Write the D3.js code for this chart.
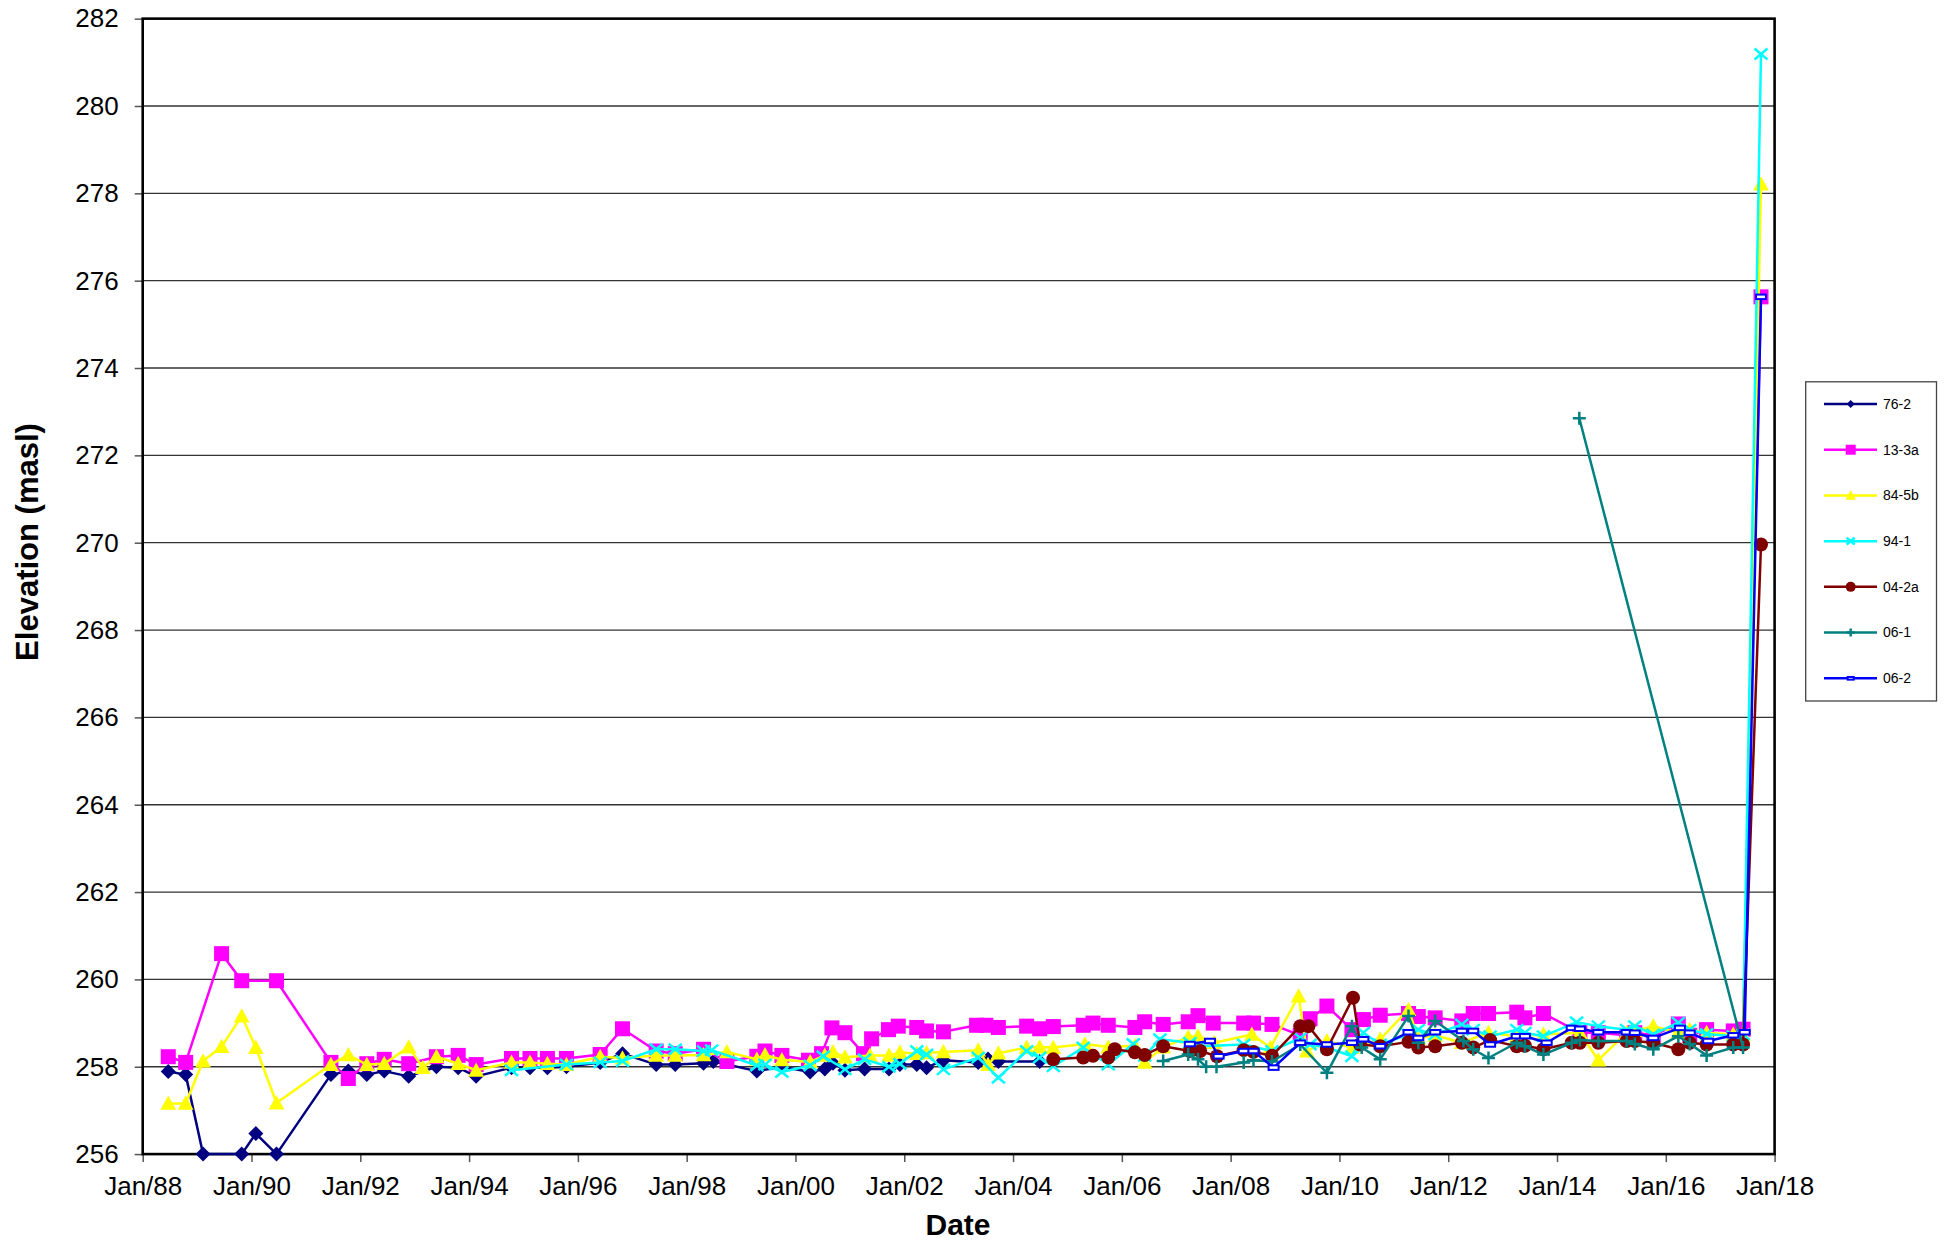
<!DOCTYPE html>
<html><head><meta charset="utf-8">
<script src="https://cdn.jsdelivr.net/npm/d3@7"></script>
<style>body{margin:0;background:#fff;}svg{display:block;font-family:"Liberation Sans",Arial,sans-serif;}</style>
</head><body><svg id="c" width="1950" height="1245"></svg>
<script>
// ---------- DATA (decimal year, elevation masl) ----------
const seriesNames = ["76-2","13-3a","84-5b","94-1","04-2a","06-1","06-2"];
const xTickYears = [1988,1990,1992,1994,1996,1998,2000,2002,2004,2006,2008,2010,2012,2014,2016,2018];
const xTickLabels = ["Jan/88","Jan/90","Jan/92","Jan/94","Jan/96","Jan/98","Jan/00","Jan/02","Jan/04","Jan/06","Jan/08","Jan/10","Jan/12","Jan/14","Jan/16","Jan/18"];
const yTickValues = [256,258,260,262,264,266,268,270,272,274,276,278,280,282];

const dates_76_2 = [1988.47,1988.79,1989.11,1989.82,1990.08,1990.46,1991.46,1991.78,1992.12,1992.44,1992.89,1993.40,1993.80,1994.13,1994.78,1995.12,1995.44,1995.79,1996.41,1996.82,1997.44,1997.79,1998.31,1998.49,1999.29,1999.75,2000.27,2000.54,2000.69,2000.91,2001.27,2001.72,2001.92,2002.23,2002.41,2002.72,2003.36,2003.54,2003.73,2004.49];
const elev_76_2  = [257.89,257.82,256.00,256.00,256.47,256.00,257.82,257.90,257.82,257.90,257.78,258.00,257.98,257.78,257.98,257.98,257.98,258.00,258.10,258.30,258.05,258.05,258.08,258.12,257.90,258.00,257.88,257.95,258.08,257.92,257.95,257.95,258.05,258.05,257.98,258.15,258.10,258.18,258.12,258.12];

const dates_13_3a = [1988.47,1988.79,1989.45,1989.82,1990.46,1991.46,1991.78,1992.12,1992.44,1992.89,1993.40,1993.80,1994.13,1994.78,1995.12,1995.44,1995.79,1996.41,1996.82,1997.44,1997.79,1998.31,1998.74,1999.29,1999.44,1999.75,2000.24,2000.48,2000.67,2000.91,2001.25,2001.40,2001.71,2001.89,2002.23,2002.41,2002.72,2003.33,2003.50,2003.73,2004.25,2004.49,2004.74,2005.29,2005.47,2005.75,2006.24,2006.42,2006.76,2007.22,2007.40,2007.68,2008.24,2008.42,2008.76,2009.28,2009.46,2009.77,2010.23,2010.44,2010.75,2011.27,2011.45,2011.76,2012.25,2012.46,2012.74,2013.26,2013.41,2013.75,2014.42,2014.76,2015.28,2015.43,2015.77,2016.23,2016.44,2016.75,2017.24,2017.42,2017.75];
const elev_13_3a  = [258.23,258.10,260.59,259.97,259.97,258.10,257.73,258.07,258.17,258.07,258.23,258.26,258.05,258.19,258.19,258.19,258.19,258.28,258.87,258.36,258.30,258.40,258.12,258.24,258.36,258.26,258.15,258.30,258.89,258.78,258.30,258.64,258.85,258.93,258.90,258.82,258.80,258.95,258.95,258.90,258.93,258.87,258.92,258.95,259.00,258.95,258.90,259.03,258.97,259.03,259.17,259.00,259.00,259.00,258.97,258.72,259.10,259.39,258.85,259.08,259.18,259.22,259.15,259.12,259.05,259.22,259.22,259.25,259.12,259.22,258.78,258.78,258.72,258.78,258.72,258.98,258.72,258.85,258.82,258.86,275.63];

const dates_84_5b = [1988.47,1988.79,1989.11,1989.45,1989.82,1990.08,1990.46,1991.46,1991.78,1992.12,1992.44,1992.89,1993.15,1993.40,1993.80,1994.13,1994.78,1995.12,1995.44,1995.79,1996.41,1996.82,1997.44,1997.79,1998.31,1998.74,1999.29,1999.44,1999.75,2000.27,2000.54,2000.69,2000.91,2001.37,2001.72,2001.92,2002.23,2002.41,2002.72,2003.36,2003.54,2003.73,2004.25,2004.49,2004.74,2005.32,2005.75,2006.24,2006.42,2006.76,2007.22,2007.40,2007.70,2008.39,2008.73,2009.25,2009.40,2009.77,2010.23,2010.75,2011.27,2011.45,2011.76,2012.25,2012.74,2013.26,2013.75,2014.42,2014.76,2015.28,2015.43,2015.77,2016.23,2016.44,2016.75,2017.24,2017.42,2017.75];
const elev_84_5b  = [257.16,257.16,258.13,258.46,259.16,258.44,257.17,258.05,258.27,258.05,258.07,258.45,257.98,258.23,258.07,257.92,258.10,258.10,258.07,258.05,258.23,258.20,258.26,258.26,258.27,258.34,258.17,258.27,258.16,258.11,258.26,258.34,258.22,258.26,258.26,258.33,258.30,258.32,258.34,258.38,258.05,258.31,258.44,258.45,258.44,258.52,258.45,258.48,258.10,258.45,258.68,258.70,258.55,258.74,258.44,259.62,258.36,258.59,258.44,258.63,259.31,258.65,258.72,258.55,258.78,258.70,258.74,258.78,258.15,258.78,258.82,258.93,258.78,258.85,258.78,258.74,258.74,278.21];

const dates_94_1 = [1994.78,1995.79,1996.41,1996.82,1997.44,1997.79,1998.31,1998.46,1999.29,1999.44,1999.75,2000.27,2000.51,2000.91,2001.27,2001.72,2001.92,2002.23,2002.41,2002.72,2003.36,2003.73,2004.25,2004.49,2004.74,2005.29,2005.75,2006.21,2006.42,2006.70,2007.25,2007.44,2008.24,2008.76,2009.28,2009.46,2009.77,2010.23,2010.44,2010.75,2011.27,2011.45,2011.76,2012.25,2012.46,2012.77,2013.26,2013.41,2013.75,2014.36,2014.76,2015.28,2015.43,2015.77,2016.23,2016.44,2016.75,2017.24,2017.42,2017.75];
const elev_94_1  = [257.92,258.05,258.10,258.13,258.40,258.40,258.36,258.38,258.03,258.05,257.88,258.03,258.24,257.94,258.17,258.00,258.07,258.36,258.28,257.94,258.21,257.75,258.36,258.21,258.01,258.44,258.05,258.52,258.25,258.63,258.55,258.47,258.51,258.36,258.66,258.51,258.44,258.24,258.78,258.51,258.74,258.85,258.74,258.97,258.85,258.70,258.85,258.78,258.70,259.02,258.93,258.85,258.93,258.74,259.01,258.85,258.75,258.70,258.74,281.19];

const dates_04_2a = [2004.74,2005.29,2005.47,2005.75,2005.87,2006.24,2006.42,2006.76,2007.25,2007.44,2007.75,2008.24,2008.42,2008.76,2009.28,2009.43,2009.77,2010.25,2010.38,2010.75,2011.27,2011.45,2011.76,2012.25,2012.46,2012.77,2013.26,2013.41,2013.75,2014.27,2014.42,2014.76,2015.28,2015.43,2015.77,2016.23,2016.44,2016.75,2017.24,2017.42,2017.75];
const elev_04_2a  = [258.17,258.21,258.25,258.21,258.40,258.33,258.27,258.47,258.36,258.36,258.24,258.38,258.34,258.25,258.93,258.93,258.40,259.58,258.51,258.47,258.57,258.44,258.47,258.55,258.44,258.61,258.47,258.48,258.40,258.55,258.55,258.55,258.59,258.59,258.55,258.40,258.55,258.51,258.51,258.51,269.96];

const dates_06_1 = [2006.76,2007.22,2007.40,2007.55,2007.74,2008.24,2008.42,2008.76,2009.28,2009.77,2010.23,2010.41,2010.75,2011.27,2011.45,2011.76,2012.28,2012.46,2012.74,2013.26,2013.41,2013.75,2014.27,2014.42,2014.76,2015.28,2015.43,2015.77,2016.23,2016.44,2016.75,2017.24,2017.42,2014.41];
const elev_06_1  = [258.13,258.28,258.17,258.00,258.00,258.10,258.15,258.12,258.51,257.86,258.93,258.44,258.17,259.16,258.55,259.05,258.59,258.40,258.20,258.55,258.47,258.28,258.55,258.61,258.59,258.59,258.52,258.40,258.70,258.52,258.26,258.44,258.44,272.85];

const dates_06_2 = [2007.25,2007.62,2007.78,2008.24,2008.42,2008.79,2009.28,2009.77,2010.23,2010.44,2010.75,2011.27,2011.45,2011.76,2012.25,2012.46,2012.77,2013.26,2013.41,2013.81,2014.27,2014.42,2014.76,2015.28,2015.43,2015.77,2016.26,2016.44,2016.78,2017.24,2017.45,2017.75];
const elev_06_2  = [258.52,258.59,258.24,258.36,258.36,257.98,258.55,258.51,258.55,258.63,258.47,258.79,258.66,258.79,258.82,258.82,258.51,258.70,258.70,258.55,258.89,258.87,258.79,258.79,258.78,258.66,258.89,258.78,258.59,258.72,258.79,275.63];

const seriesColors = ["#000080","#FF00FF","#FFFF00","#00FFFF","#800000","#008080","#0000FF"];
const seriesMarkers = ["diamond","square","triangle","x","circle","plus","dash"];
const seriesDates = [dates_76_2,dates_13_3a,dates_84_5b,dates_94_1,dates_04_2a,dates_06_1,dates_06_2];
const seriesElev = [elev_76_2,elev_13_3a,elev_84_5b,elev_94_1,elev_04_2a,elev_06_1,elev_06_2];

// ---------- CHART ----------
const svg = d3.select("#c");
const L=142.7, R=1774.6, T=18.65, B=1154.1;
const x = d3.scaleLinear().domain([1988,2018]).range([L,R]);
const y = d3.scaleLinear().domain([256,282]).range([B,T]);

// gridlines
svg.append("g").selectAll("line").data(yTickValues.filter(v=>v>256&&v<282)).join("line")
  .attr("x1",L).attr("x2",R).attr("y1",d=>y(d)).attr("y2",d=>y(d))
  .attr("stroke","#333").attr("stroke-width",1.3);

// axes
const yAxis = d3.axisLeft(y).tickValues(yTickValues).tickSize(8).tickPadding(16).tickFormat(d3.format("d"));
const gy = svg.append("g").attr("transform",`translate(${L},0)`).call(yAxis);
gy.select(".domain").remove();
gy.selectAll("text").attr("font-size",26).attr("fill","#000").attr("font-family","Liberation Sans, Arial, sans-serif");
gy.selectAll("line").attr("stroke","#555").attr("stroke-width",1.5);

const xAxis = d3.axisBottom(x).tickValues(xTickYears).tickSize(8).tickPadding(14)
  .tickFormat((d,i)=>xTickLabels[i]);
const gx = svg.append("g").attr("transform",`translate(0,${B})`).call(xAxis);
gx.select(".domain").remove();
gx.selectAll("text").attr("font-size",26).attr("fill","#000").attr("font-family","Liberation Sans, Arial, sans-serif");
gx.selectAll("line").attr("stroke","#555").attr("stroke-width",1.5);

// plot frame
svg.append("rect").attr("x",L).attr("y",T).attr("width",R-L).attr("height",B-T)
  .attr("fill","none").attr("stroke","#000").attr("stroke-width",2.6);

// markers
function marker(g, type, color, s){
  switch(type){
    case "diamond": g.append("path").attr("d",`M0,${-s}L${s},0L0,${s}L${-s},0Z`).attr("fill",color); break;
    case "square": g.append("rect").attr("x",-s).attr("y",-s).attr("width",2*s).attr("height",2*s).attr("fill",color); break;
    case "triangle": g.append("path").attr("d",`M0,${-s*1.05}L${s*1.05},${s*0.85}L${-s*1.05},${s*0.85}Z`).attr("fill",color); break;
    case "x": g.append("path").attr("d",`M${-s},${-s*0.85}L${s},${s*0.85}M${-s},${s*0.85}L${s},${-s*0.85}`).attr("stroke",color).attr("stroke-width",2.5).attr("fill","none"); break;
    case "circle": g.append("circle").attr("r",s).attr("fill",color); break;
    case "plus": g.append("path").attr("d",`M${-s},0L${s},0M0,${-s}L0,${s}`).attr("stroke",color).attr("stroke-width",2.5).attr("fill","none"); break;
    case "dash": g.append("rect").attr("x",-s).attr("y",-s*0.45).attr("width",2*s).attr("height",s*0.9).attr("fill","#fff").attr("stroke",color).attr("stroke-width",2); break;
  }
}
const markerSize = {diamond:7.5,square:7.5,triangle:7.5,x:6.5,circle:7,plus:6.5,dash:5};
const legendSize = {diamond:4,square:5,triangle:5,x:4,circle:5,plus:4,dash:3};

const line = d3.line().x(d=>x(d[0])).y(d=>y(d[1]));
seriesNames.forEach((name,i)=>{
  const pts = seriesDates[i].map((d,j)=>[d,seriesElev[i][j]]);
  const g = svg.append("g");
  g.append("path").datum(pts).attr("d",line).attr("fill","none")
    .attr("stroke",seriesColors[i]).attr("stroke-width",2.5).attr("stroke-linejoin","round");
  pts.forEach(p=>{
    const m = g.append("g").attr("transform",`translate(${x(p[0])},${y(p[1])})`);
    marker(m, seriesMarkers[i], seriesColors[i], markerSize[seriesMarkers[i]]);
  });
});

// axis titles
svg.append("text").attr("x",958).attr("y",1235).attr("text-anchor","middle")
  .attr("font-size",30).attr("font-weight","bold").text("Date");
svg.append("text").attr("transform","translate(38,542) rotate(-90)").attr("text-anchor","middle")
  .attr("font-size",31).attr("font-weight","bold").text("Elevation (masl)");

// legend
const lg = svg.append("g");
lg.append("rect").attr("x",1805.7).attr("y",381.8).attr("width",130.8).attr("height",319.2)
  .attr("fill","#fff").attr("stroke","#444").attr("stroke-width",1.3);
const legendY = d3.scaleLinear().domain([0,6]).range([404,678.3]);
seriesNames.forEach((name,i)=>{
  const yy = legendY(i);
  lg.append("line").attr("x1",1824).attr("x2",1877).attr("y1",yy).attr("y2",yy)
    .attr("stroke",seriesColors[i]).attr("stroke-width",2.5);
  const m = lg.append("g").attr("transform",`translate(1850.7,${yy})`);
  marker(m, seriesMarkers[i], seriesColors[i], legendSize[seriesMarkers[i]]);
  lg.append("text").attr("x",1883).attr("y",yy).attr("dy","0.35em").attr("font-size",14).text(name);
});
</script></body></html>
